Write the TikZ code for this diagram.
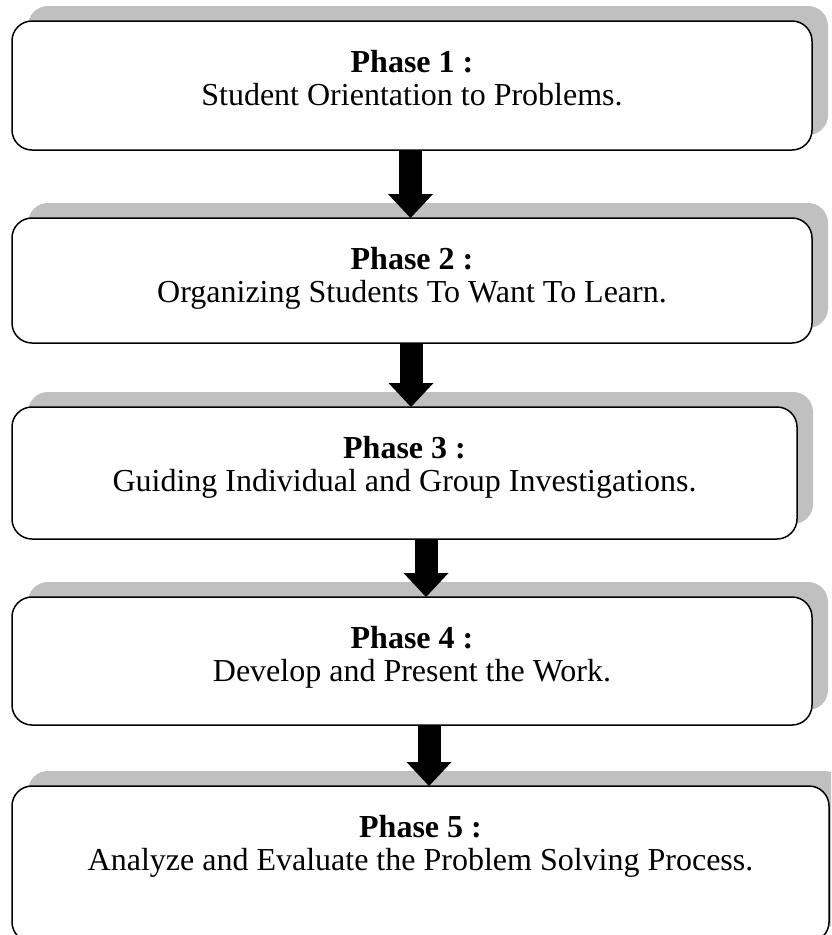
\documentclass[tikz,border=0pt]{standalone}
\usepackage{fontspec}
\setmainfont{Liberation Serif}
\usetikzlibrary{calc,shadows,arrows.meta}
\definecolor{shadowgray}{RGB}{192,192,192}
\tikzset{
  phasebox/.style={draw=black, line width=1.5pt, fill=white, rounded corners=20pt,
    inner sep=0pt, outer sep=0pt, anchor=north west,
    drop shadow={shadow xshift=16pt, shadow yshift=15pt, fill=shadowgray, opacity=1}},
  titletext/.style={anchor=base, inner sep=0pt, font=\fontsize{32}{33}\selectfont\bfseries},
  desctext/.style={anchor=base, inner sep=0pt, font=\fontsize{32}{33}\selectfont},
  blockarrow/.style={line width=23pt, line cap=butt, black,
    -{Triangle[width=45pt,length=24pt,line width=0pt]}}
}
\begin{document}
\begin{tikzpicture}[x=1pt,y=-1pt]
\useasboundingbox (0,0) rectangle (831,935);
\clip (0,0) rectangle (831,935);
% boxes
\node[phasebox, minimum width=800pt, minimum height=129pt] (b1) at (12,21) {};
\node[phasebox, minimum width=800pt, minimum height=125pt] (b2) at (12,218) {};
\node[phasebox, minimum width=785pt, minimum height=132pt] (b3) at (12,407) {};
\node[phasebox, minimum width=800pt, minimum height=128pt] (b4) at (12,597) {};
\node[phasebox, minimum width=817pt, minimum height=156pt] (b5) at (12,786) {};
% texts
\node[titletext] (t1) at ($(b1.north)+(0,51)$) {Phase 1 :};
\node[desctext]  (d1) at ($(b1.north)+(0,84)$) {Student Orientation to Problems.};
\node[titletext] (t2) at ($(b2.north)+(0,51)$) {Phase 2 :};
\node[desctext]  (d2) at ($(b2.north)+(0,84)$) {Organizing Students To Want To Learn.};
\node[titletext] (t3) at ($(b3.north)+(0,51)$) {Phase 3 :};
\node[desctext]  (d3) at ($(b3.north)+(0,84)$) {Guiding Individual and Group Investigations.};
\node[titletext] (t4) at ($(b4.north)+(0,51)$) {Phase 4 :};
\node[desctext]  (d4) at ($(b4.north)+(0,84)$) {Develop and Present the Work.};
\node[titletext] (t5) at ($(b5.north)+(0,51)$) {Phase 5 :};
\node[desctext]  (d5) at ($(b5.north)+(0,84)$) {Analyze and Evaluate the Problem Solving Process.};
% arrows
\draw[blockarrow] ([xshift=-1.5pt]b1.south) -- ([xshift=-1.5pt]b2.north);
\draw[blockarrow] ([xshift=-1pt]b2.south) -- ([xshift=6.5pt]b3.north);
\draw[blockarrow] ([xshift=21.5pt]b3.south) -- ([xshift=14pt]b4.north);
\draw[blockarrow] ([xshift=17pt]b4.south) -- ([xshift=8.5pt]b5.north);
\end{tikzpicture}
\end{document}
